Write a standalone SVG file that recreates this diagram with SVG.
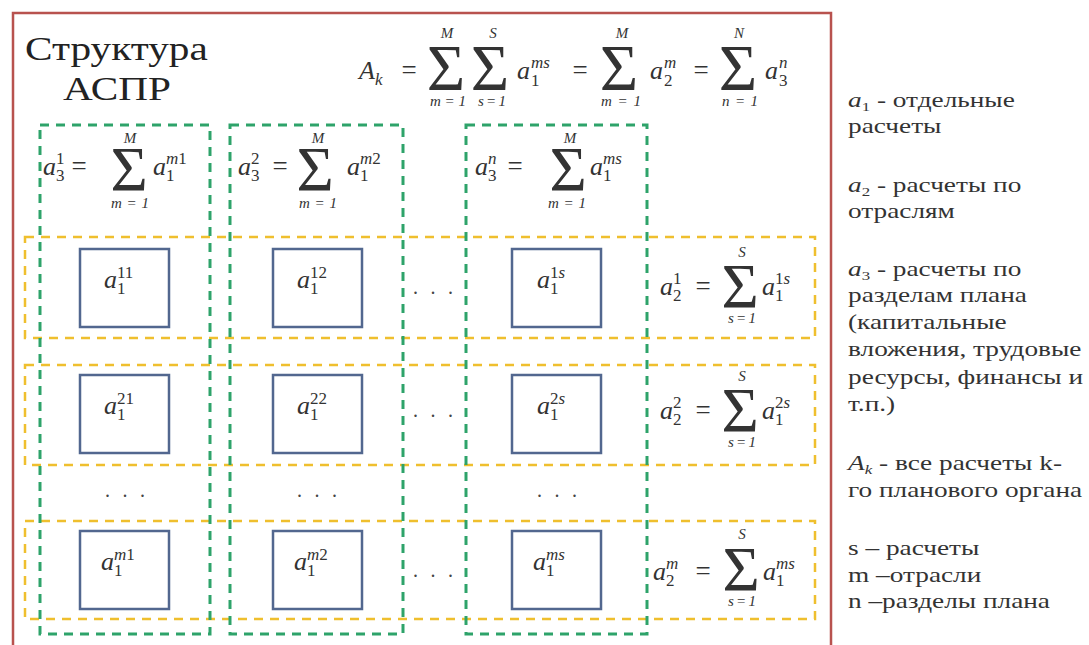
<svg xmlns="http://www.w3.org/2000/svg" width="1089" height="645" viewBox="0 0 1089 645">
<style>
.frame{fill:none;stroke:#b8524e;stroke-width:2.5}
.gcol{fill:none;stroke:#2ea36a;stroke-width:3;stroke-dasharray:9 7}
.yrow{fill:none;stroke:#efbf2e;stroke-width:2.5;stroke-dasharray:9 7}
.cell{fill:#fff;stroke:#52678f;stroke-width:2.5}
.m{font-family:"Liberation Serif",serif;font-style:italic;font-size:26px;fill:#333}
.s{font-size:17px}
.n{font-style:normal}
.sig{font-family:"Liberation Serif",serif;font-size:64px;fill:#333;text-anchor:middle}
.big{font-size:66px}
.lim{font-family:"Liberation Serif",serif;font-style:italic;font-size:15px;fill:#333;text-anchor:middle}
.eq{font-family:"Liberation Serif",serif;font-size:27px;fill:#333;text-anchor:middle}
.dots{font-family:"Liberation Serif",serif;font-size:20px;fill:#444;letter-spacing:12.5px}
.lg{font-family:"Liberation Serif",serif;font-size:21px;fill:#333}
.it{font-style:italic}
.title{font-family:"Liberation Serif",serif;font-size:33px;fill:#222}
</style>
<rect width="1089" height="645" fill="#fff"/>
<g id="frame"><path class="frame" d="M13,650 V13 H831 V650"/></g>
<g id="title">
<text class="title" transform="translate(25 60) scale(1.25 1)">Структура</text>
<text class="title" transform="translate(63 100) scale(1.25 1)">АСПР</text>
</g>
<g id="formula-total">
<text class="m" x="359" y="79">A</text>
<text class="m s" x="375" y="85">k</text>
<text class="eq" x="409" y="79">=</text>
<text class="sig big" x="446" y="90">Σ</text>
<text class="lim" x="447" y="38">M</text>
<text class="lim" x="448" y="106" textLength="36">m=1</text>
<text class="sig big" x="490" y="90">Σ</text>
<text class="lim" x="493" y="38">S</text>
<text class="lim" x="492" y="106" textLength="28">s=1</text>
<text class="m" x="517" y="79">a</text>
<text class="m s" x="531" y="68">ms</text>
<text class="m s n" x="531" y="86">1</text>
<text class="eq" x="580" y="79">=</text>
<text class="sig big" x="619" y="90">Σ</text>
<text class="lim" x="622" y="38">M</text>
<text class="lim" x="621" y="106" textLength="40">m=1</text>
<text class="m" x="650" y="79">a</text>
<text class="m s" x="664" y="68">m</text>
<text class="m s n" x="664" y="86">2</text>
<text class="eq" x="701" y="79">=</text>
<text class="sig big" x="738" y="90">Σ</text>
<text class="lim" x="739" y="38">N</text>
<text class="lim" x="740" y="106" textLength="36">n=1</text>
<text class="m" x="765" y="79">a</text>
<text class="m s" x="779" y="68">n</text>
<text class="m s n" x="779" y="86">3</text>
</g>
<g id="row-1">
<rect class="yrow" x="25" y="237" width="790" height="101"/>
<text class="m" x="660" y="295">a</text>
<text class="m s n" x="673" y="284">1</text>
<text class="m s n" x="673" y="301">2</text>
<text class="eq" x="703" y="295">=</text>
<text class="sig" x="740" y="308">Σ</text>
<text class="lim" x="742" y="257">S</text>
<text class="lim" x="742" y="323" textLength="28">s=1</text>
<text class="m" x="762" y="295">a</text>
<text class="m s" x="775" y="284"><tspan class="n">1</tspan>s</text>
<text class="m s n" x="775" y="301">1</text>
</g>
<g id="row-2">
<rect class="yrow" x="25" y="365" width="790" height="100"/>
<text class="m" x="660" y="419">a</text>
<text class="m s n" x="673" y="408">2</text>
<text class="m s n" x="673" y="425">2</text>
<text class="eq" x="703" y="419">=</text>
<text class="sig" x="740" y="432">Σ</text>
<text class="lim" x="742" y="381">S</text>
<text class="lim" x="742" y="447" textLength="28">s=1</text>
<text class="m" x="762" y="419">a</text>
<text class="m s" x="775" y="408"><tspan class="n">2</tspan>s</text>
<text class="m s n" x="775" y="425">1</text>
</g>
<g id="row-3">
<rect class="yrow" x="25" y="521" width="790" height="98"/>
<text class="m" x="653" y="580">a</text>
<text class="m s" x="666" y="569">m</text>
<text class="m s n" x="666" y="586">2</text>
<text class="eq" x="703" y="580">=</text>
<text class="sig" x="741" y="591">Σ</text>
<text class="lim" x="742" y="539">S</text>
<text class="lim" x="742" y="606" textLength="28">s=1</text>
<text class="m" x="763" y="580">a</text>
<text class="m s" x="776" y="569">ms</text>
<text class="m s n" x="776" y="586">1</text>
</g>
<g id="col-1">
<rect class="gcol" x="40" y="125" width="170" height="509"/>
<text class="m" x="43" y="175">a</text>
<text class="m s n" x="56" y="164">1</text>
<text class="m s n" x="56" y="181">3</text>
<text class="eq" x="79" y="175">=</text>
<text class="sig" x="129" y="191">Σ</text>
<text class="lim" x="130" y="143">M</text>
<text class="lim" x="130" y="208" textLength="38">m=1</text>
<text class="m" x="153" y="175">a</text>
<text class="m s" x="166" y="164">m<tspan class="n">1</tspan></text>
<text class="m s n" x="166" y="181">1</text>
</g>
<g id="col-2">
<rect class="gcol" x="230" y="125" width="173" height="509"/>
<text class="m" x="238" y="175">a</text>
<text class="m s n" x="251" y="164">2</text>
<text class="m s n" x="251" y="181">3</text>
<text class="eq" x="280" y="175">=</text>
<text class="sig" x="315" y="191">Σ</text>
<text class="lim" x="318" y="143">M</text>
<text class="lim" x="318" y="208" textLength="38">m=1</text>
<text class="m" x="347" y="175">a</text>
<text class="m s" x="360" y="164">m<tspan class="n">2</tspan></text>
<text class="m s n" x="360" y="181">1</text>
</g>
<g id="col-3">
<rect class="gcol" x="466" y="125" width="181" height="509"/>
<text class="m" x="475" y="175">a</text>
<text class="m s" x="488" y="164">n</text>
<text class="m s n" x="488" y="181">3</text>
<text class="eq" x="515" y="175">=</text>
<text class="sig" x="568" y="191">Σ</text>
<text class="lim" x="570" y="143">M</text>
<text class="lim" x="567" y="208" textLength="38">m=1</text>
<text class="m" x="590" y="175">a</text>
<text class="m s" x="603" y="164">ms</text>
<text class="m s n" x="603" y="181">1</text>
</g>
<g id="cell-11"><rect class="cell" x="80" y="249" width="89" height="78"/><text class="m" x="104" y="288">a</text><text class="m s n" x="117" y="278">11</text><text class="m s n" x="117" y="294">1</text></g>
<g id="cell-12"><rect class="cell" x="273" y="249" width="89" height="78"/><text class="m" x="297" y="288">a</text><text class="m s n" x="310" y="278">12</text><text class="m s n" x="310" y="294">1</text></g>
<g id="cell-1s"><rect class="cell" x="512" y="249" width="89" height="78"/><text class="m" x="537" y="288">a</text><text class="m s" x="550" y="278"><tspan class="n">1</tspan>s</text><text class="m s n" x="550" y="294">1</text></g>
<g id="cell-21"><rect class="cell" x="80" y="375" width="89" height="78"/><text class="m" x="104" y="414">a</text><text class="m s n" x="117" y="404">21</text><text class="m s n" x="117" y="420">1</text></g>
<g id="cell-22"><rect class="cell" x="273" y="375" width="89" height="78"/><text class="m" x="297" y="414">a</text><text class="m s n" x="310" y="404">22</text><text class="m s n" x="310" y="420">1</text></g>
<g id="cell-2s"><rect class="cell" x="512" y="375" width="89" height="78"/><text class="m" x="537" y="414">a</text><text class="m s" x="550" y="404"><tspan class="n">2</tspan>s</text><text class="m s n" x="550" y="420">1</text></g>
<g id="cell-m1"><rect class="cell" x="80" y="531" width="89" height="78"/><text class="m" x="101" y="570">a</text><text class="m s" x="114" y="560">m<tspan class="n">1</tspan></text><text class="m s n" x="114" y="576">1</text></g>
<g id="cell-m2"><rect class="cell" x="273" y="531" width="89" height="78"/><text class="m" x="294" y="570">a</text><text class="m s" x="307" y="560">m<tspan class="n">2</tspan></text><text class="m s n" x="307" y="576">1</text></g>
<g id="cell-ms"><rect class="cell" x="512" y="531" width="89" height="78"/><text class="m" x="533" y="570">a</text><text class="m s" x="546" y="560">ms</text><text class="m s n" x="546" y="576">1</text></g>
<g id="ellipses">
<text class="dots" x="413" y="294">...</text>
<text class="dots" x="413" y="417">...</text>
<text class="dots" x="413" y="577">...</text>
<text class="dots" x="105" y="497">...</text>
<text class="dots" x="297" y="497">...</text>
<text class="dots" x="537" y="497">...</text>
</g>
<g id="connectors"></g>
<g id="legend" class="lg" transform="translate(848 0) scale(1.3 1)">
<text x="0" y="107"><tspan class="it">a</tspan><tspan font-size="13" dy="4">1</tspan><tspan dy="-4"> - отдельные</tspan></text>
<text x="0" y="133">расчеты</text>
<text x="0" y="192"><tspan class="it">a</tspan><tspan font-size="13" dy="4">2</tspan><tspan dy="-4"> - расчеты по</tspan></text>
<text x="0" y="218">отраслям</text>
<text x="0" y="276"><tspan class="it">a</tspan><tspan font-size="13" dy="4">3</tspan><tspan dy="-4"> - расчеты по</tspan></text>
<text x="0" y="302">разделам плана</text>
<text x="0" y="329">(капитальные</text>
<text x="0" y="356">вложения, трудовые</text>
<text x="0" y="384">ресурсы, финансы и</text>
<text x="0" y="411">т.п.)</text>
<text x="0" y="470"><tspan class="it">A</tspan><tspan class="it" font-size="13" dy="4">k</tspan><tspan dy="-4"> - все расчеты k-</tspan></text>
<text x="0" y="497">го планового органа</text>
<text x="0" y="555">s – расчеты</text>
<text x="0" y="582">m –отрасли</text>
<text x="0" y="608">n –разделы плана</text>
</g>
</svg>
